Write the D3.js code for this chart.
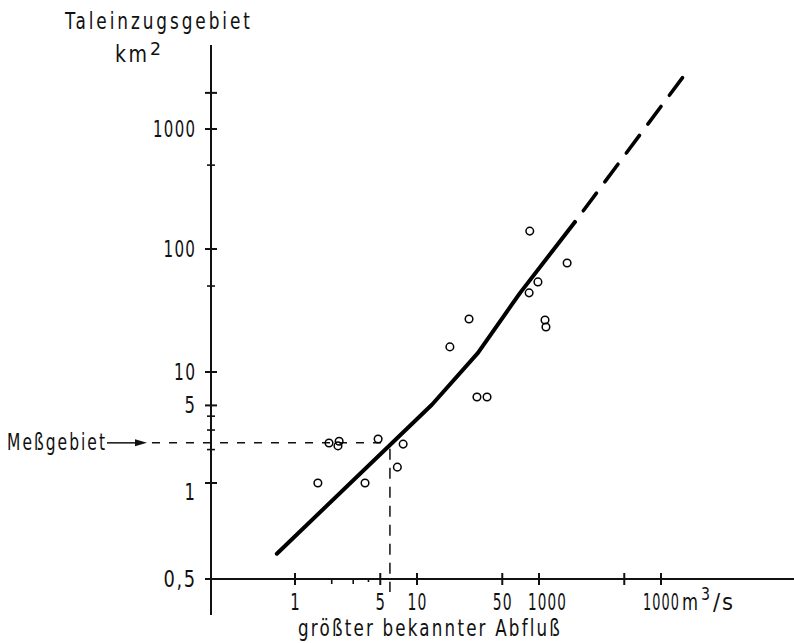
<!DOCTYPE html>
<html>
<head>
<meta charset="utf-8">
<script src="https://cdn.jsdelivr.net/npm/d3@7"></script>
<style>
  body { margin: 0; background: #fff; }
  svg { display: block; }
  text { font-family: "DejaVu Sans", sans-serif; fill: #111; font-size: 23px; }
</style>
</head>
<body>
<div id="chart"></div>
<script>
// measured points: largest known discharge (m3/s) vs. catchment area (km2)
var pointQ = [1.54, 1.9, 2.25, 2.3, 3.75, 4.8, 6.9, 7.7, 18.6, 26.7, 31, 37.5, 83, 98, 84, 112, 114, 170];
var pointA = [1.0, 2.29, 2.16, 2.38, 1.0, 2.49, 1.39, 2.24, 16, 27, 5.96, 5.96, 44, 54, 141, 26.5, 23.2, 77];

// drawn regression line (solid) and its extrapolation (dashed)
var fitQ = [0.71, 13.3, 31.6, 70, 197];
var fitA = [0.6, 5.1, 14.3, 44, 168];
var extQ = [197, 1515];
var extA = [168, 2712];

// Messgebiet reading
var messQ = 6.0, messA = 2.3;

// axis ticks
var xMajor = [1, 5, 10, 50, 100, 500, 1000];
var xMinor = [2, 3, 4];
var xLabelVals = [1, 5, 10, 50, 100, 1000];
var xLabels = ["1", "5", "10", "50", "1000", "1000"];
var yMajor = [2000, 1000, 100, 10, 5, 1];
var yMinor = [500, 50, 4, 3, 2];
var yLabelVals = [1000, 100, 10, 5, 1, 0.5];
var yLabels = ["1000", "100", "10", "5", "1", "0,5"];

// the lettering is a narrow stencil hand, squeeze the font horizontally to fit
function lettering(parent, str, x0, y0, w, size, spacing) {
    var t = parent.append("text")
        .style("font-size", (size || 23) + "px")
        .style("letter-spacing", (spacing || 0) + "px")
        .text(str);
    var k = w / (t.node().getComputedTextLength() - (spacing || 0));
    t.attr("transform", "translate(" + x0 + "," + y0 + ") scale(" + k + ",1)");
    return t;
}

function drawChart() {
    var width = 794, height = 643;
    var axisX = 211, axisY = 579;

    var svg = d3.select("#chart").append("svg")
        .attr("width", width)
        .attr("height", height);

    var x = d3.scaleLog()
        .domain([1, 1000])
        .range([295, 661]);

    // hand drawn paper: decades are not quite even, so piecewise in log space
    var yLin = d3.scaleLinear()
        .domain([Math.log10(0.5), 0, 1, 2, 3, 4])
        .range([axisY, 483, 372, 249, 129, 9]);
    var y = function(v) { return yLin(Math.log10(v)); };

    // axes lines
    svg.append("line")
        .attr("x1", axisX).attr("x2", axisX)
        .attr("y1", 45).attr("y2", 615)
        .attr("stroke", "#111").attr("stroke-width", 2);
    svg.append("line")
        .attr("x1", 205).attr("x2", width)
        .attr("y1", axisY).attr("y2", axisY)
        .attr("stroke", "#111").attr("stroke-width", 2);

    // x ticks
    svg.selectAll(".xmajor")
        .data(xMajor)
        .enter().append("line")
        .attr("class", "xmajor")
        .attr("x1", function(d) { return x(d); })
        .attr("x2", function(d) { return x(d); })
        .attr("y1", axisY - 6).attr("y2", axisY + 6)
        .attr("stroke", "#111").attr("stroke-width", 2);
    svg.selectAll(".xminor")
        .data(xMinor)
        .enter().append("line")
        .attr("class", "xminor")
        .attr("x1", function(d) { return x(d); })
        .attr("x2", function(d) { return x(d); })
        .attr("y1", axisY).attr("y2", function(d, i) { return axisY + (i === 2 ? 3 : 5); })
        .attr("stroke", "#111").attr("stroke-width", 1.6);

    var last = xLabels.length - 1;
    xLabelVals.forEach(function(d, i) {
        var w = xLabels[i].length * 9.5;
        if (i === last) {
            // "1000m3/s" with the unit trailing after the tick label
            var x0 = x(d) - 18;
            lettering(svg, xLabels[i], x0, 610, 36, 23, 2);
            lettering(svg, "m", x0 + 39, 610, 16);
            lettering(svg, "3", x0 + 58, 600, 9, 18);
            lettering(svg, "/s", x0 + 70, 610, 20, 23, 2);
        } else {
            lettering(svg, xLabels[i], x(d) + (i === 4 ? 8 : 0) - w / 2, 610, w, 23, 2);
        }
    });

    // y ticks
    svg.selectAll(".ymajor")
        .data(yMajor)
        .enter().append("line")
        .attr("class", "ymajor")
        .attr("x1", axisX - 6).attr("x2", axisX + 6)
        .attr("y1", function(d) { return y(d); })
        .attr("y2", function(d) { return y(d); })
        .attr("stroke", "#111").attr("stroke-width", 2);
    svg.selectAll(".yminor")
        .data(yMinor)
        .enter().append("line")
        .attr("class", "yminor")
        .attr("x1", axisX - 4).attr("x2", axisX + 4)
        .attr("y1", function(d) { return y(d); })
        .attr("y2", function(d) { return y(d); })
        .attr("stroke", "#111").attr("stroke-width", 1.6);

    yLabelVals.forEach(function(d, i) {
        var w = yLabels[i].length * 10.5;
        lettering(svg, yLabels[i], 195 - w, y(d) + (d === 1 ? 17 : 8), w, 23, 2);
    });

    // titles
    lettering(svg, "Taleinzugsgebiet", 65, 29, 185, 23, 4);
    lettering(svg, "km", 115, 62, 32, 23, 3);
    lettering(svg, "2", 150, 55, 11, 18);

    lettering(svg, "größter bekannter Abfluß", 298, 636, 262, 23, 3);

    // Messgebiet
    lettering(svg, "Meßgebiet", 7, 450, 98, 23, 3);
    svg.append("line")
        .attr("x1", 107).attr("x2", 138)
        .attr("y1", y(messA)).attr("y2", y(messA))
        .attr("stroke", "#111").attr("stroke-width", 1.5);
    svg.append("path")
        .attr("d", "M" + 147 + "," + y(messA) + "l-12,-3.5v7z")
        .attr("fill", "#111");
    svg.append("line")
        .attr("x1", 152).attr("x2", x(messQ))
        .attr("y1", y(messA)).attr("y2", y(messA))
        .attr("stroke", "#111").attr("stroke-width", 1.5)
        .attr("stroke-dasharray", "8 9");
    svg.append("line")
        .attr("x1", x(messQ)).attr("x2", x(messQ))
        .attr("y1", y(messA) + 6).attr("y2", 592)
        .attr("stroke", "#111").attr("stroke-width", 1.5)
        .attr("stroke-dasharray", "11 8");

    // regression line
    var line = d3.line()
        .x(function(d) { return x(d[0]); })
        .y(function(d) { return y(d[1]); });

    svg.append("path")
        .attr("d", line(d3.zip(fitQ, fitA)))
        .attr("fill", "none")
        .attr("stroke", "#000")
        .attr("stroke-width", 4)
        .attr("stroke-linecap", "round")
        .attr("stroke-linejoin", "round");

    svg.append("path")
        .attr("d", line(d3.zip(extQ, extA)))
        .attr("fill", "none")
        .attr("stroke", "#000")
        .attr("stroke-width", 3.6)
        .attr("stroke-linecap", "round")
        .attr("stroke-dasharray", "0 14 22 14 22 14 22 14 22 14 22 14 12");

    // points
    svg.selectAll(".pt")
        .data(d3.zip(pointQ, pointA))
        .enter().append("circle")
        .attr("class", "pt")
        .attr("cx", function(d) { return x(d[0]); })
        .attr("cy", function(d) { return y(d[1]); })
        .attr("r", 3.8)
        .attr("fill", "none")
        .attr("stroke", "#000")
        .attr("stroke-width", 1.5);
}

drawChart();
</script>
</body>
</html>
